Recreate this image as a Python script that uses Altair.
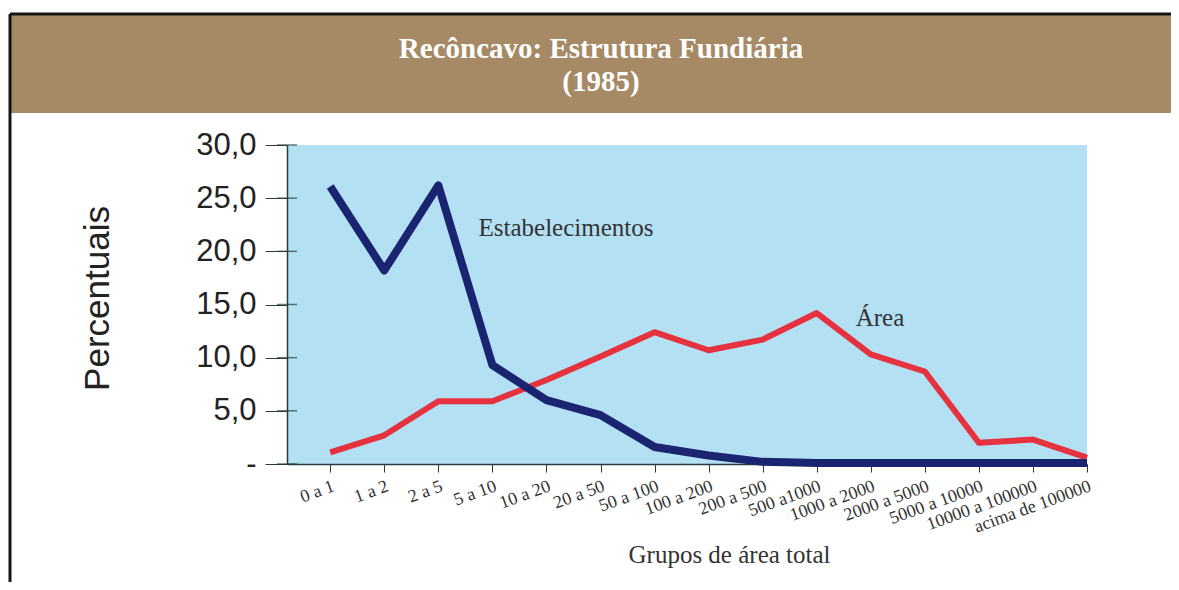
import altair as alt
import pandas as pd

categories = ["0 a 1", "1 a 2", "2 a 5", "5 a 10", "10 a 20", "20 a 50", "50 a 100",
              "100 a 200", "200 a 500", "500 a1000", "1000 a 2000", "2000 a 5000",
              "5000 a 10000", "10000 a 100000", "acima de 100000"]
estabelecimentos = [26.1, 18.2, 26.2, 9.3, 6.0, 4.6, 1.6, 0.8, 0.2, 0.1, 0.1, 0.1, 0.1, 0.1, 0.1]
area = [1.1, 2.7, 5.9, 5.9, 7.9, 10.1, 12.4, 10.7, 11.7, 14.2, 10.3, 8.7, 2.0, 2.3, 0.6]
y_ticks = [0, 5, 10, 15, 20, 25, 30]
title_lines = ["Recôncavo: Estrutura Fundiária", "(1985)"]
x_title = "Grupos de área total"
y_title = "Percentuais"
label_estab = "Estabelecimentos"
label_area = "Área"

df = pd.DataFrame({"grupo": categories, "Estabelecimentos": estabelecimentos, "Área": area})
df_ticks = pd.DataFrame({"v": y_ticks})
one = pd.DataFrame({"k": [0]})

W, H = 800, 319
DARK = "#2b3a3f"

x_enc = alt.X(
    "grupo:N", sort=categories,
    scale=alt.Scale(type="point", padding=0.4, align=1),
    axis=alt.Axis(
        title=x_title, titleFont="Liberation Serif", titleFontSize=25, titleFontWeight="normal",
        titleColor="#333333", titleX=442, titleY=90, titleAnchor="start", titleAlign="center",
        titleBaseline="middle",
        labelAngle=-20, labelAlign="right", labelBaseline="top", labelFont="Liberation Serif",
        labelFontSize=18, labelColor="#333333", labelPadding=5, labelOverlap=False,
        tickSize=8, tickColor=DARK, domainColor=DARK, domainWidth=1.5, grid=False,
    ),
)
y_enc = alt.Y(
    "Área:Q",
    scale=alt.Scale(domain=[0, 30], nice=False),
    axis=alt.Axis(
        values=y_ticks, title=y_title, titleFont="Liberation Sans", titleFontSize=35,
        titleFontWeight="normal", titleColor="#222222", titleAngle=-90, titleX=-190, titleY=153,
        titleAlign="center", titleBaseline="middle",
        labelFont="Liberation Sans", labelFontSize=31, labelColor="#222222", labelPadding=9,
        labelExpr="datum.value == 0 ? '-' : replace(format(datum.value, '.1f'), '.', ',')",
        tickSize=22, tickColor=DARK, domainColor=DARK, domainWidth=1.5, grid=False,
    ),
)

base = alt.Chart(df)

red_line = base.mark_line(color="#e6323e", strokeWidth=6, strokeJoin="round").encode(x=x_enc, y=y_enc)
blue_line = base.mark_line(color="#1a2470", strokeWidth=8, strokeJoin="round").encode(
    x=alt.X("grupo:N", sort=categories), y=alt.Y("Estabelecimentos:Q"))

inner_yticks = alt.Chart(df_ticks).mark_tick(color=DARK, thickness=1.5, size=20).encode(
    y=alt.Y("v:Q"), x=alt.value(0))
inner_xticks = base.mark_tick(color=DARK, thickness=1.5, size=16).encode(
    x=alt.X("grupo:N", sort=categories), y=alt.value(H))

band = alt.Chart(one).mark_rect(color="#a68a66").encode(
    x=alt.value(-277), x2=alt.value(900), y=alt.value(-130), y2=alt.value(-32))
top_border = alt.Chart(one).mark_rule(color="#151515", strokeWidth=3).encode(
    x=alt.value(-277), x2=alt.value(900), y=alt.value(-131))
left_border = alt.Chart(one).mark_rule(color="#151515", strokeWidth=3).encode(
    x=alt.value(-277), y=alt.value(-131), y2=alt.value(440))

title_style = dict(font="Liberation Serif", fontSize=29, fontWeight="bold", color="white",
                   align="center", baseline="middle")
title1 = alt.Chart(one).mark_text(**title_style).encode(
    x=alt.value(314), y=alt.value(-96), text=alt.value(title_lines[0]))
title2 = alt.Chart(one).mark_text(**title_style).encode(
    x=alt.value(314), y=alt.value(-63), text=alt.value(title_lines[1]))

ann_style = dict(font="Liberation Serif", fontSize=25, fontWeight="normal", color="#333333",
                 align="center", baseline="middle")
ann_estab = alt.Chart(one).mark_text(**ann_style).encode(
    x=alt.value(279), y=alt.value(83), text=alt.value(label_estab))
ann_area = alt.Chart(one).mark_text(**ann_style).encode(
    x=alt.value(593), y=alt.value(173), text=alt.value(label_area))

chart = alt.layer(
    band, top_border, left_border, title1, title2,
    inner_xticks, red_line, blue_line, inner_yticks, ann_estab, ann_area,
).properties(
    width=W, height=H,
    padding={"left": 279, "top": 137, "right": 84, "bottom": 118},
    autosize=alt.AutoSizeParams(type="none"),
).configure(background="white").configure_view(fill="#b4e0f4", stroke=None)

chart.save("out.html", embed_options={"renderer": "svg", "actions": False})
